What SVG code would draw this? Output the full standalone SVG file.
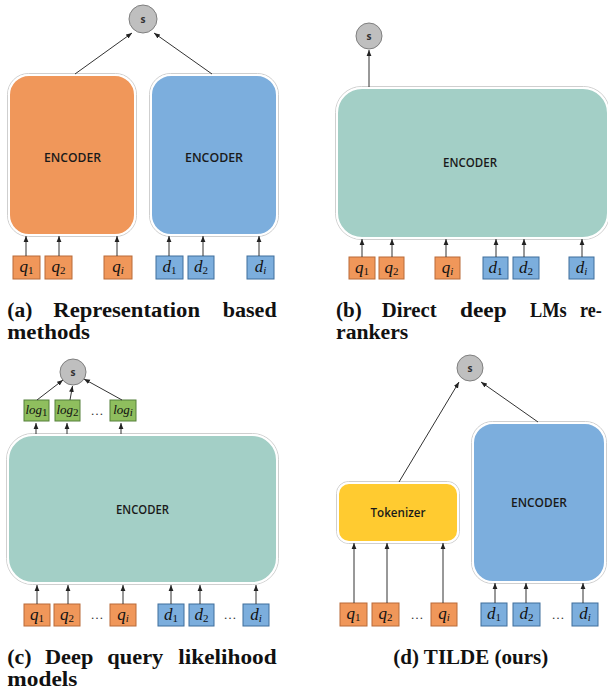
<svg xmlns="http://www.w3.org/2000/svg" width="608" height="696" viewBox="0 0 608 696">
<defs>
<marker id="ah" markerUnits="userSpaceOnUse" markerWidth="6" markerHeight="6" viewBox="0 0 6 6" refX="6" refY="3" orient="auto">
<path d="M0,0.6 L6,3 L0,5.4 Z" fill="#222"/>
</marker>
<style>
.ln{stroke:#333;stroke-width:1;fill:none;marker-end:url(#ah)}
.sc{fill:#BFBFBF;stroke:#7F7F7F;stroke-width:1}
.st{font-family:"Open Sans","Liberation Sans",sans-serif;font-size:10px;font-weight:bold;fill:#333;text-anchor:middle}
.enc{font-family:"Open Sans","Liberation Sans",sans-serif;font-size:12px;font-weight:600;fill:#1a1a1a;text-anchor:middle}
.halo{fill:none;stroke:#CFCFCF;stroke-width:1}
.or{fill:#F0975A}
.bl{fill:#7CAEDD}
.te{fill:#A3CFC6}
.ye{fill:#FFCB30}
.box{stroke:#fff;stroke-width:2}
.qb{fill:#F0975A;stroke:#B96B38;stroke-width:1}
.db{fill:#7CAEDD;stroke:#3F6E9C;stroke-width:1}
.gb{fill:#8FBE5E;stroke:#55803A;stroke-width:1}
.m{font-family:"Liberation Serif","DejaVu Serif",serif;font-size:17px;font-style:italic;fill:#111;text-anchor:middle}
.sub{font-size:11px;font-style:normal}
.si{font-size:11px;font-style:italic}
.ml{font-family:"Liberation Serif","DejaVu Serif",serif;font-size:13px;font-style:italic;fill:#111;text-anchor:middle}
.dots{font-family:"Liberation Serif",serif;font-size:13px;fill:#333;text-anchor:middle}
.cap{font-family:"Liberation Serif","Times New Roman",serif;font-size:20px;font-weight:bold;fill:#111}
</style>
</defs>

<!-- Panel (a) -->
<g id="a-score"><circle class="sc" cx="143" cy="19" r="14"/><text class="st" x="143" y="22.5">s</text></g>
<g id="a-enc-q"><rect class="halo" x="7.5" y="73.5" width="129" height="163" rx="21"/><rect class="or box" x="9" y="75" width="126" height="160" rx="20"/><text class="enc" x="72.5" y="161.5" textLength="57" lengthAdjust="spacingAndGlyphs">ENCODER</text></g>
<g id="a-enc-d"><rect class="halo" x="149.5" y="73.5" width="129" height="163" rx="21"/><rect class="bl box" x="151" y="75" width="126" height="160" rx="20"/><text class="enc" x="214" y="161.5" textLength="58" lengthAdjust="spacingAndGlyphs">ENCODER</text></g>
<g id="a-q1"><rect class="qb" x="13" y="256" width="27" height="23"/><text class="m" x="26.5" y="272">q<tspan class="sub" dy="2">1</tspan></text></g>
<g id="a-q2"><rect class="qb" x="45" y="256" width="27" height="23"/><text class="m" x="58.5" y="272">q<tspan class="sub" dy="2">2</tspan></text></g>
<g id="a-qi"><rect class="qb" x="104" y="256" width="28" height="23"/><text class="m" x="118" y="272">q<tspan class="si" dy="2">i</tspan></text></g>
<g id="a-d1"><rect class="db" x="156" y="256" width="27" height="23"/><text class="m" x="169.5" y="272">d<tspan class="sub" dy="2">1</tspan></text></g>
<g id="a-d2"><rect class="db" x="188" y="256" width="26" height="23"/><text class="m" x="201" y="272">d<tspan class="sub" dy="2">2</tspan></text></g>
<g id="a-di"><rect class="db" x="247" y="256" width="27" height="23"/><text class="m" x="260.5" y="272">d<tspan class="si" dy="2">i</tspan></text></g>

<!-- Panel (b) -->
<g id="b-score"><circle class="sc" cx="369" cy="36" r="13"/><text class="st" x="369" y="39.5">s</text></g>
<g id="b-enc"><rect class="halo" x="335.5" y="86.5" width="274" height="153" rx="26"/><rect class="te box" x="337" y="88" width="271" height="150" rx="25"/><text class="enc" x="470" y="167" textLength="54" lengthAdjust="spacingAndGlyphs">ENCODER</text></g>
<g id="b-q1"><rect class="qb" x="349" y="257" width="26" height="22"/><text class="m" x="362" y="272.5">q<tspan class="sub" dy="2">1</tspan></text></g>
<g id="b-q2"><rect class="qb" x="379" y="257" width="25" height="22"/><text class="m" x="391.5" y="272.5">q<tspan class="sub" dy="2">2</tspan></text></g>
<g id="b-qi"><rect class="qb" x="435" y="257" width="25" height="22"/><text class="m" x="447.5" y="272.5">q<tspan class="si" dy="2">i</tspan></text></g>
<g id="b-d1"><rect class="db" x="483" y="257" width="25" height="22"/><text class="m" x="495.5" y="272.5">d<tspan class="sub" dy="2">1</tspan></text></g>
<g id="b-d2"><rect class="db" x="513" y="257" width="26" height="22"/><text class="m" x="526" y="272.5">d<tspan class="sub" dy="2">2</tspan></text></g>
<g id="b-di"><rect class="db" x="569" y="257" width="25" height="22"/><text class="m" x="581.5" y="272.5">d<tspan class="si" dy="2">i</tspan></text></g>

<!-- Panel (c) -->
<g id="c-score"><circle class="sc" cx="73" cy="372" r="13"/><text class="st" x="73" y="375.5">s</text></g>
<g id="c-log1"><rect class="gb" x="24" y="400" width="25" height="21"/><text class="ml" x="36.5" y="414">log<tspan class="sub" font-size="8" dy="2">1</tspan></text></g>
<g id="c-log2"><rect class="gb" x="55" y="400" width="25" height="21"/><text class="ml" x="67.5" y="414">log<tspan class="sub" font-size="8" dy="2">2</tspan></text></g>
<g id="c-logi"><rect class="gb" x="110" y="400" width="26" height="21"/><text class="ml" x="123" y="414">log<tspan class="si" font-size="8" dy="2">i</tspan></text></g>
<text class="dots" x="97" y="415">…</text>
<g id="c-enc"><rect class="halo" x="6.5" y="433.5" width="272" height="151" rx="26"/><rect class="te box" x="8" y="435" width="269" height="148" rx="25"/><text class="enc" x="142.5" y="514" textLength="53" lengthAdjust="spacingAndGlyphs">ENCODER</text></g>
<g id="c-q1"><rect class="qb" x="24" y="604" width="26" height="22"/><text class="m" x="37" y="619.5">q<tspan class="sub" dy="2">1</tspan></text></g>
<g id="c-q2"><rect class="qb" x="54" y="604" width="26" height="22"/><text class="m" x="67" y="619.5">q<tspan class="sub" dy="2">2</tspan></text></g>
<text class="dots" x="97" y="619">…</text>
<g id="c-qi"><rect class="qb" x="110" y="604" width="26" height="22"/><text class="m" x="123" y="619.5">q<tspan class="si" dy="2">i</tspan></text></g>
<g id="c-d1"><rect class="db" x="158" y="604" width="26" height="22"/><text class="m" x="171" y="619.5">d<tspan class="sub" dy="2">1</tspan></text></g>
<g id="c-d2"><rect class="db" x="189" y="604" width="25" height="22"/><text class="m" x="201.5" y="619.5">d<tspan class="sub" dy="2">2</tspan></text></g>
<text class="dots" x="230" y="619">…</text>
<g id="c-di"><rect class="db" x="243" y="604" width="26" height="22"/><text class="m" x="256" y="619.5">d<tspan class="si" dy="2">i</tspan></text></g>

<!-- Panel (d) -->
<g id="d-score"><circle class="sc" cx="470" cy="368" r="13"/><text class="st" x="470" y="371.5">s</text></g>
<g id="d-tok"><rect class="halo" x="336.5" y="481.5" width="123" height="62" rx="12"/><rect class="ye box" x="338" y="483" width="120" height="59" rx="11"/><text class="enc" x="398" y="517" textLength="55" lengthAdjust="spacingAndGlyphs">Tokenizer</text></g>
<g id="d-enc"><rect class="halo" x="471.5" y="421.5" width="135" height="162" rx="21"/><rect class="bl box" x="473" y="423" width="132" height="159" rx="20"/><text class="enc" x="539" y="507" textLength="56" lengthAdjust="spacingAndGlyphs">ENCODER</text></g>
<g id="d-q1"><rect class="qb" x="340" y="603" width="27" height="23"/><text class="m" x="353.5" y="619">q<tspan class="sub" dy="2">1</tspan></text></g>
<g id="d-q2"><rect class="qb" x="372" y="603" width="27" height="23"/><text class="m" x="385.5" y="619">q<tspan class="sub" dy="2">2</tspan></text></g>
<text class="dots" x="417" y="619">…</text>
<g id="d-qi"><rect class="qb" x="431" y="603" width="26" height="23"/><text class="m" x="444" y="619">q<tspan class="si" dy="2">i</tspan></text></g>
<g id="d-d1"><rect class="db" x="481" y="603" width="26" height="23"/><text class="m" x="494" y="619">d<tspan class="sub" dy="2">1</tspan></text></g>
<g id="d-d2"><rect class="db" x="513" y="603" width="27" height="23"/><text class="m" x="526.5" y="619">d<tspan class="sub" dy="2">2</tspan></text></g>
<text class="dots" x="558" y="619">…</text>
<g id="d-di"><rect class="db" x="572" y="603" width="26" height="23"/><text class="m" x="585" y="619">d<tspan class="si" dy="2">i</tspan></text></g>

<!-- Connectors -->
<g id="connectors">
<line class="ln" x1="75" y1="74" x2="132" y2="33"/>
<line class="ln" x1="212" y1="74" x2="154" y2="33"/>
<line class="ln" x1="26" y1="256" x2="26" y2="236"/>
<line class="ln" x1="59" y1="256" x2="59" y2="236"/>
<line class="ln" x1="117" y1="256" x2="117" y2="236"/>
<line class="ln" x1="169" y1="256" x2="169" y2="236"/>
<line class="ln" x1="203" y1="256" x2="203" y2="236"/>
<line class="ln" x1="259" y1="256" x2="259" y2="236"/>

<line class="ln" x1="369" y1="87" x2="369" y2="50"/>
<line class="ln" x1="362" y1="257" x2="362" y2="239"/>
<line class="ln" x1="392" y1="257" x2="392" y2="239"/>
<line class="ln" x1="446" y1="257" x2="446" y2="239"/>
<line class="ln" x1="496" y1="257" x2="496" y2="239"/>
<line class="ln" x1="524" y1="257" x2="524" y2="239"/>
<line class="ln" x1="582" y1="257" x2="582" y2="239"/>

<line class="ln" x1="37" y1="400" x2="63" y2="380"/>
<line class="ln" x1="70" y1="400" x2="72.5" y2="386"/>
<line class="ln" x1="122" y1="400" x2="84" y2="379"/>
<line class="ln" x1="36" y1="434" x2="36" y2="423"/>
<line class="ln" x1="67" y1="434" x2="67" y2="423"/>
<line class="ln" x1="121" y1="434" x2="121" y2="423"/>
<line class="ln" x1="37" y1="604" x2="37" y2="585"/>
<line class="ln" x1="68" y1="604" x2="68" y2="585"/>
<line class="ln" x1="123" y1="604" x2="123" y2="585"/>
<line class="ln" x1="171" y1="604" x2="171" y2="585"/>
<line class="ln" x1="200" y1="604" x2="200" y2="585"/>
<line class="ln" x1="256" y1="604" x2="256" y2="585"/>

<line class="ln" x1="399" y1="482" x2="459" y2="382"/>
<line class="ln" x1="538" y1="422" x2="481" y2="382"/>
<line class="ln" x1="354" y1="603" x2="354" y2="543"/>
<line class="ln" x1="387" y1="603" x2="387" y2="543"/>
<line class="ln" x1="443" y1="603" x2="443" y2="543"/>
<line class="ln" x1="495" y1="603" x2="495" y2="583"/>
<line class="ln" x1="526" y1="603" x2="526" y2="583"/>
<line class="ln" x1="583" y1="603" x2="583" y2="583"/>
</g>

<!-- Captions -->
<g id="captions">
<text class="cap" x="7.3" y="317" textLength="25" lengthAdjust="spacingAndGlyphs">(a)</text>
<text class="cap" x="53.3" y="317" textLength="146.7" lengthAdjust="spacingAndGlyphs">Representation</text>
<text class="cap" x="222.7" y="317" textLength="54" lengthAdjust="spacingAndGlyphs">based</text>
<text class="cap" x="7.3" y="339" textLength="82.7" lengthAdjust="spacingAndGlyphs">methods</text>

<text class="cap" x="336" y="317" textLength="25.7" lengthAdjust="spacingAndGlyphs">(b)</text>
<text class="cap" x="381.7" y="317" textLength="55" lengthAdjust="spacingAndGlyphs">Direct</text>
<text class="cap" x="460" y="317" textLength="46.7" lengthAdjust="spacingAndGlyphs">deep</text>
<text class="cap" x="530" y="317" textLength="36.7" lengthAdjust="spacingAndGlyphs">LMs</text>
<text class="cap" x="580" y="317" textLength="21.7" lengthAdjust="spacingAndGlyphs">re-</text>
<text class="cap" x="336" y="339" textLength="72.3" lengthAdjust="spacingAndGlyphs">rankers</text>

<text class="cap" x="7.3" y="664" textLength="24.4" lengthAdjust="spacingAndGlyphs">(c)</text>
<text class="cap" x="45" y="664" textLength="48.3" lengthAdjust="spacingAndGlyphs">Deep</text>
<text class="cap" x="107.3" y="664" textLength="56" lengthAdjust="spacingAndGlyphs">query</text>
<text class="cap" x="178.3" y="664" textLength="98.4" lengthAdjust="spacingAndGlyphs">likelihood</text>
<text class="cap" x="7.3" y="686" textLength="70" lengthAdjust="spacingAndGlyphs">models</text>

<text class="cap" x="393.3" y="664" textLength="155" lengthAdjust="spacingAndGlyphs">(d) TILDE (ours)</text>
</g>
</svg>
